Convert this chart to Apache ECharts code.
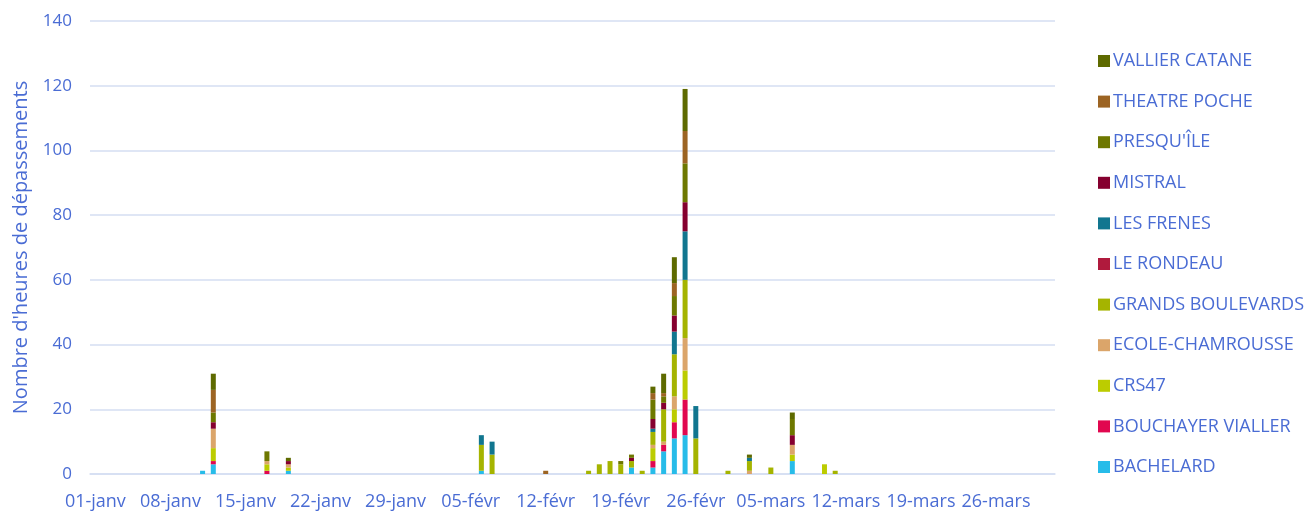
<!DOCTYPE html>
<html>
<head>
<meta charset="utf-8">
<script src="https://cdn.jsdelivr.net/npm/echarts@6/dist/echarts.min.js"></script>
<style>
html, body { margin: 0; padding: 0; background: #fff; }
#main { width: 1307px; height: 511px; }
</style>
</head>
<body>
<div id="main"></div>
<script>
// days Jan 1 -> Mar 31, labels like "01-janv"
var months = [['janv', 31], ['févr', 28], ['mars', 31]];
var days = [];
months.forEach(function (m) {
	for (var d = 1; d <= m[1]; d++) {
		days.push((d < 10 ? '0' + d : '' + d) + '-' + m[0]);
	}
});

// only the days that have a bar
var barDays = ['11-janv', '12-janv', '17-janv', '19-janv', '06-févr', '07-févr', '12-févr', '16-févr',
	'17-févr', '18-févr', '19-févr', '20-févr', '21-févr', '22-févr', '23-févr', '24-févr',
	'25-févr', '26-févr', '01-mars', '03-mars', '05-mars', '07-mars', '10-mars', '11-mars'];

var bachelard    = [1, 3, 0, 1, 1, 0, 0, 0, 0, 0, 0, 2, 0, 2, 7, 11, 12, 0, 0, 0, 0, 4, 0, 0];
var bouchayer    = [0, 1, 1, 0, 0, 0, 0, 0, 0, 0, 0, 0, 0, 2, 2, 5, 11, 0, 0, 0, 0, 0, 0, 0];
var crs47        = [0, 4, 2, 1, 0, 0, 0, 0, 0, 0, 0, 0, 0, 4, 0, 4, 9, 0, 0, 0, 0, 2, 3, 0];
var ecole        = [0, 6, 1, 1, 0, 0, 0, 0, 0, 0, 0, 0, 0, 1, 1, 4, 10, 0, 0, 1, 0, 3, 0, 0];
var grandsBlvd   = [0, 0, 0, 0, 8, 6, 0, 1, 3, 4, 3, 2, 1, 4, 10, 13, 18, 11, 1, 3, 2, 0, 0, 1];
var leRondeau    = [0, 0, 0, 0, 0, 0, 0, 0, 0, 0, 0, 0, 0, 0, 0, 0, 0, 0, 0, 0, 0, 0, 0, 0];
var lesFrenes    = [0, 0, 0, 0, 3, 4, 0, 0, 0, 0, 0, 0, 0, 1, 0, 7, 15, 10, 0, 1, 0, 0, 0, 0];
var mistral      = [0, 2, 0, 1, 0, 0, 0, 0, 0, 0, 0, 1, 0, 3, 2, 5, 9, 0, 0, 0, 0, 3, 0, 0];
var presquile    = [0, 3, 3, 0, 0, 0, 0, 0, 0, 0, 1, 1, 0, 6, 2, 6, 12, 0, 0, 0, 0, 5, 0, 0];
var theatrePoche = [0, 7, 0, 0, 0, 0, 1, 0, 0, 0, 0, 0, 0, 2, 1, 4, 10, 0, 0, 0, 0, 0, 0, 0];
var vallier      = [0, 5, 0, 1, 0, 0, 0, 0, 0, 0, 0, 0, 0, 2, 6, 8, 13, 0, 0, 1, 0, 2, 0, 0];

var stations = [
	{ name: 'BACHELARD', data: bachelard, color: '#27bce9' },
	{ name: 'BOUCHAYER VIALLER', data: bouchayer, color: '#e1074f' },
	{ name: 'CRS47', data: crs47, color: '#bccc00' },
	{ name: 'ECOLE-CHAMROUSSE', data: ecole, color: '#dba56a' },
	{ name: 'GRANDS BOULEVARDS', data: grandsBlvd, color: '#a5b400' },
	{ name: 'LE RONDEAU', data: leRondeau, color: '#b01a3d' },
	{ name: 'LES FRENES', data: lesFrenes, color: '#11768f' },
	{ name: 'MISTRAL', data: mistral, color: '#85002f' },
	{ name: "PRESQU'ÎLE", data: presquile, color: '#6e7800' },
	{ name: 'THEATRE POCHE', data: theatrePoche, color: '#9c6423' },
	{ name: 'VALLIER CATANE', data: vallier, color: '#5e6a00' }
];

var txtColor = '#4a6cd4';
var fontFam = '"Open Sans", "Noto Sans", sans-serif';

function fullSeries(vals) {
	return days.map(function (d) {
		var i = barDays.indexOf(d);
		return (i >= 0 && vals[i] > 0) ? vals[i] : '-';
	});
}

var series = stations.map(function (s) {
	return {
		name: s.name,
		type: 'bar',
		stack: 'total',
		barWidth: 5,
		itemStyle: { color: s.color },
		data: fullSeries(s.data)
	};
});

var chart = echarts.init(document.getElementById('main'), null, { renderer: 'canvas' });
chart.setOption({
	animation: false,
	textStyle: { fontFamily: fontFam },
	grid: { left: 90, right: 252, top: 21, bottom: 35 },
	legend: {
		orient: 'vertical',
		left: 1098,
		top: 52,
		padding: 0,
		itemWidth: 12,
		itemHeight: 12,
		itemGap: 22.6,
		icon: 'rect',
		data: stations.map(function (s) { return s.name; }).reverse(),
		textStyle: { color: txtColor, fontSize: 18, lineHeight: 18, fontFamily: fontFam, padding: [0, 0, 0, -2] }
	},
	xAxis: {
		type: 'category',
		data: days,
		axisLine: { show: true, lineStyle: { color: '#d5def2', width: 1.5 } },
		axisTick: { show: false },
		axisLabel: { interval: 6, color: txtColor, fontSize: 18, margin: 19, fontFamily: fontFam }
	},
	yAxis: {
		type: 'value',
		min: 0,
		max: 140,
		interval: 20,
		name: "Nombre d'heures de dépassements",
		nameLocation: 'middle',
		nameGap: 59,
		nameTextStyle: { color: txtColor, fontSize: 20, fontFamily: fontFam },
		axisLine: { show: false },
		axisTick: { show: false },
		axisLabel: { color: txtColor, fontSize: 17, margin: 18, fontFamily: fontFam },
		splitLine: { lineStyle: { color: '#d5def2', width: 1.5 } }
	},
	series: series
});
</script>
</body>
</html>
